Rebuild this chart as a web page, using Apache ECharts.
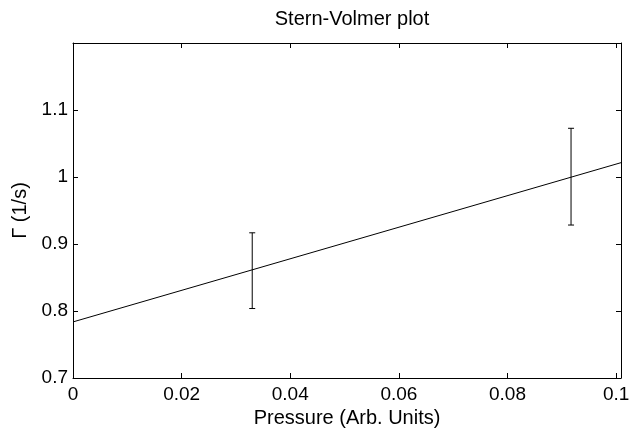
<!DOCTYPE html>
<html>
<head>
<meta charset="utf-8">
<script src="https://cdn.jsdelivr.net/npm/echarts@6/dist/echarts.min.js"></script>
<style>
  html, body { margin: 0; padding: 0; background: #fff; }
  #chart { width: 639px; height: 428px; }
</style>
</head>
<body>
<div id="chart"></div>
<script>
// measured data points with error bars
const pressure = [0.033, 0.0917];
const gamma = [0.8602, 1.0005];
const gammaErr = [0.0565, 0.0722];
// fitted line endpoints
const fitX = [0, 0.1009];
const fitY = [0.7837, 1.0214];
const xTicks = [0, 0.02, 0.04, 0.06, 0.08, 0.1];
const yTicks = [0.7, 0.8, 0.9, 1, 1.1];

const font = "Liberation Sans, Arial, sans-serif";
const chart = echarts.init(document.getElementById("chart"));

const fmtX = (v) => {
  const hit = xTicks.find((t) => Math.abs(t - v) < 1e-6);
  return hit === undefined ? "" : String(hit);
};
const fmtY = (v) => {
  const hit = yTicks.find((t) => Math.abs(t - v) < 1e-6);
  return hit === undefined ? "" : String(hit);
};

const baseAxis = {
  axisLine: { show: true, onZero: false, lineStyle: { color: "#000", width: 1 } },
  axisTick: { show: true, inside: true, length: 5, lineStyle: { color: "#000" } },
  splitLine: { show: false },
};

const errData = pressure.map((x, i) => [x, gamma[i] - gammaErr[i], gamma[i] + gammaErr[i]]);

const option = {
  backgroundColor: "#fff",
  animation: false,
  title: {
    text: "Stern-Volmer plot",
    left: 347,
    textAlign: "center",
    top: 4,
    textStyle: { fontFamily: font, fontSize: 20, fontWeight: "normal", color: "#000" },
  },
  grid: { left: 73, right: 18, top: 43, bottom: 50, containLabel: false, outerBoundsMode: "none" },
  xAxis: [
    {
      ...baseAxis,
      type: "value",
      min: 0,
      max: 0.1009,
      interval: 0.02,
      position: "bottom",
      name: "Pressure (Arb. Units)",
      nameLocation: "middle",
      nameGap: 25,
      nameTextStyle: { fontFamily: font, fontSize: 20, color: "#000" },
      axisLabel: { fontFamily: font, fontSize: 19, color: "#000", margin: 7, formatter: fmtX, showMaxLabel: true },
    },
    {
      ...baseAxis,
      type: "value",
      min: 0,
      max: 0.1009,
      interval: 0.02,
      position: "top",
      axisLabel: { show: false },
    },
  ],
  yAxis: [
    {
      ...baseAxis,
      type: "value",
      min: 0.7,
      max: 1.2,
      interval: 0.1,
      position: "left",
      name: "\u0393 (1/s)",
      nameLocation: "middle",
      nameGap: 40,
      nameTextStyle: { fontFamily: font, fontSize: 20, color: "#000" },
      axisLabel: { fontFamily: font, fontSize: 19, color: "#000", margin: 5, formatter: fmtY },
    },
    {
      ...baseAxis,
      type: "value",
      min: 0.7,
      max: 1.2,
      interval: 0.1,
      position: "right",
      axisLabel: { show: false },
    },
  ],
  series: [
    {
      type: "line",
      data: fitX.map((x, i) => [x, fitY[i]]),
      symbol: "none",
      lineStyle: { color: "#000", width: 1 },
      silent: true,
    },
    {
      type: "custom",
      data: errData,
      renderItem: (params, api) => {
        const x = api.value(0);
        const lo = api.coord([x, api.value(1)]);
        const hi = api.coord([x, api.value(2)]);
        const cap = 3;
        const style = { stroke: "#000", lineWidth: 1 };
        return {
          type: "group",
          children: [
            { type: "line", shape: { x1: lo[0], y1: lo[1], x2: hi[0], y2: hi[1] }, style },
            { type: "line", shape: { x1: lo[0] - cap, y1: lo[1], x2: lo[0] + cap, y2: lo[1] }, style },
            { type: "line", shape: { x1: hi[0] - cap, y1: hi[1], x2: hi[0] + cap, y2: hi[1] }, style },
          ],
        };
      },
    },
  ],
};

chart.setOption(option);
</script>
</body>
</html>
